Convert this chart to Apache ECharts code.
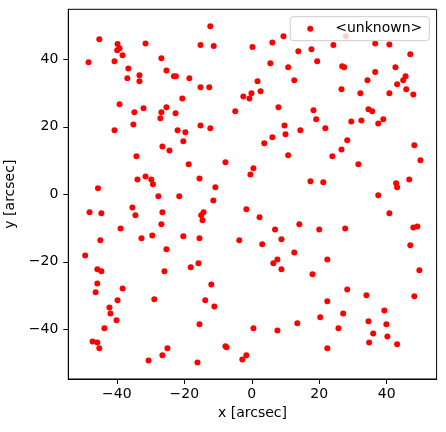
<!DOCTYPE html>
<html>
<head>
<meta charset="utf-8">
<script src="https://cdn.jsdelivr.net/npm/echarts@6/dist/echarts.min.js"></script>
<style>
  html, body { margin: 0; padding: 0; background: #fff; }
  #chart { width: 446px; height: 432px; }
</style>
</head>
<body>
<div id="chart"></div>
<script>
// source positions (arcsec)
var xVals = [
  -45.2, -39.8, -39.2, -39.9, -38.3, -31.5, -48.4, -40.7, -26.8, -36.6,
  -25.3, -33.3, -36.9, -33.3, -23.1, -22.5, -18.5, -20.6, -39.2, -32.1,
  -34.8, -26.8, -25.3, -22.6, -27.1, -35.1, -40.7, -22.0, -19.7, -20.3,
  -26.5, -24.4, -34.2, -18.7, -31.5, -33.9, -29.8, -29.3, -45.6, -27.7,
  -21.5, -12.3, -15.2, -11.3, 0.2, 6.1, 9.4, 13.8, 17.7, 5.5,
  10.8, -15.2, -12.6, 1.7, 12.6, -2.5, -0.1, -0.7, 2.6, -4.9,
  7.9, 18.3, 19.1, -15.2, -12.3, 9.7, 10.0, 14.4, 6.1, 3.7,
  -7.8, 10.8, 0.5, -0.4, -15.5, -10.8, 17.4, -11.4, 27.9, 24.2,
  36.6, 40.8, 47.0, 19.4, 26.8, 27.4, 36.6, 42.6, 34.3, 45.6,
  44.9, 43.1, 26.6, 32.2, 40.8, 45.8, 47.9, 21.8, 29.5, 32.5,
  34.6, 35.7, 37.5, 39.0, 28.3, 26.6, 23.9, 31.6, 48.2, 50.0,
  21.2, 42.8, 43.1, 46.7, 37.5, -48.1, -44.6, -35.4, -34.5, -26.5,
  -26.8, -38.9, -29.5, -32.7, -20.3, -44.9, -25.3, -49.4, -45.8, -44.6,
  -25.9, -18.1, -45.8, -46.3, -38.3, -39.8, -28.9, -42.2, -41.9, -40.1,
  -43.7, -47.2, -45.8, -45.2, -25.0, -26.5, -30.6, -1.6, 2.3, -15.0,
  -14.3, -14.6, -15.5, -3.7, 3.1, 6.9, 8.8, 14.1, 12.6, -15.8,
  7.6, 6.4, 8.8, 18.0, -12.0, -13.8, -11.1, -15.5, 0.5, 7.6,
  13.5, -7.8, -7.5, -1.6, -2.8, -16.1, 40.8, 20.0, 27.7, 47.9,
  49.1, 47.0, 22.4, 49.7, 28.3, 34.0, 48.2, 22.4, 39.3, 20.3,
  27.1, 25.7, 34.6, 39.9, 36.0, 40.2, 34.8, 43.1, 22.4
];
var yVals = [
  45.9, 44.5, 43.3, 42.7, 41.2, 44.7, 39.1, 39.4, 40.3, 37.3,
  36.7, 35.3, 34.4, 33.5, 35.0, 35.0, 34.4, 28.4, 26.7, 25.5,
  24.3, 24.3, 25.8, 24.0, 22.5, 20.7, 19.0, 19.0, 18.4, 15.7,
  14.2, 13.0, 11.3, 8.9, 5.3, 4.4, 4.4, 3.0, 1.8, -0.6,
  -0.6, 49.8, 44.2, 43.9, 43.6, 45.0, 46.8, 42.4, 43.0, 38.8,
  37.6, 31.7, 31.7, 33.5, 33.8, 29.0, 29.9, 28.4, 30.5, 24.6,
  25.8, 24.9, 22.2, 20.4, 19.6, 20.4, 17.8, 19.0, 16.9, 15.1,
  9.5, 11.6, 7.7, 5.9, 4.7, 2.1, 3.9, -1.8, 46.8, 44.2,
  44.7, 44.4, 41.5, 39.4, 37.9, 37.6, 36.2, 37.6, 33.8, 35.0,
  33.8, 32.6, 31.1, 29.9, 29.9, 31.1, 29.6, 19.6, 21.6, 21.9,
  25.2, 24.6, 21.0, 22.2, 16.0, 13.3, 11.3, 8.9, 14.5, 10.1,
  3.6, 3.3, 2.1, 4.4, -0.3, -5.3, -5.6, -3.9, -6.2, -5.3,
  -8.9, -10.1, -12.2, -13.0, -12.4, -13.6, -16.3, -18.1, -22.2, -22.8,
  -22.8, -21.6, -26.4, -29.0, -27.9, -31.4, -31.1, -33.5, -35.3, -37.3,
  -39.7, -43.6, -43.9, -45.6, -45.6, -47.7, -49.2, -4.4, -6.8, -6.2,
  -5.3, -7.7, -13.0, -13.6, -14.8, -10.4, -13.3, -8.9, -17.2, -20.4,
  -19.3, -20.4, -22.2, -23.7, -26.7, -31.4, -33.2, -38.5, -39.7, -40.3,
  -38.2, -45.0, -45.3, -47.7, -48.9, -49.8, -5.6, -10.4, -10.1, -9.8,
  -9.5, -15.1, -19.3, -22.5, -28.2, -29.9, -30.2, -31.7, -34.4, -36.4,
  -35.3, -39.7, -37.6, -38.5, -41.2, -42.1, -43.9, -44.4, -45.6
];
var seriesName = '<unknown>';
var xTicks = [-40, -20, 0, 20, 40];
var yTicks = [-40, -20, 0, 20, 40];

var points = xVals.map(function (x, i) { return [x, yVals[i]]; });

var font = 'DejaVu Sans';
function minus(v) { return String(v).replace('-', '\u2212'); }

var chart = echarts.init(document.getElementById('chart'));
chart.setOption({
  animation: false,
  backgroundColor: '#fff',
  grid: {
    left: 68.3, right: 9.4, top: 9.3, bottom: 53,
    outerBoundsMode: 'none',
    show: true, borderColor: '#000', borderWidth: 1
  },
  legend: {
    right: 16.7, top: 16.7,
    padding: [5, 7, 5, 17],
    itemWidth: 6, itemHeight: 6,
    icon: 'circle',
    backgroundColor: 'rgba(255,255,255,0.8)',
    borderColor: '#cccccc', borderWidth: 1, borderRadius: 3,
    textStyle: { fontFamily: font, fontSize: 14, color: '#000', padding: [0, 0, 0, 17] },
    data: [seriesName]
  },
  xAxis: {
    type: 'value', min: -54.4, max: 54.8,
    name: 'x [arcsec]', nameLocation: 'middle', nameGap: 26,
    nameTextStyle: { fontFamily: font, fontSize: 14, color: '#000' },
    axisLine: { show: true, onZero: false, lineStyle: { color: '#000', width: 1 } },
    axisTick: { show: true, inside: false, length: 5, customValues: xTicks, lineStyle: { color: '#000' } },
    axisLabel: { customValues: xTicks, margin: 8, fontFamily: font, fontSize: 14, color: '#000', formatter: minus },
    splitLine: { show: false }
  },
  yAxis: {
    type: 'value', min: -54.7, max: 54.8,
    name: 'y [arcsec]', nameLocation: 'middle', nameGap: 40,
    nameTextStyle: { fontFamily: font, fontSize: 14, color: '#000' },
    axisLine: { show: true, onZero: false, lineStyle: { color: '#000', width: 1 } },
    axisTick: { show: true, inside: false, length: 5, customValues: yTicks, lineStyle: { color: '#000' } },
    axisLabel: { customValues: yTicks, margin: 10, fontFamily: font, fontSize: 14, color: '#000', formatter: minus },
    splitLine: { show: false }
  },
  series: [{
    name: seriesName,
    type: 'scatter',
    symbol: 'circle',
    symbolSize: 6,
    itemStyle: { color: '#ff0000', opacity: 1 },
    data: points
  }]
});
</script>
</body>
</html>
